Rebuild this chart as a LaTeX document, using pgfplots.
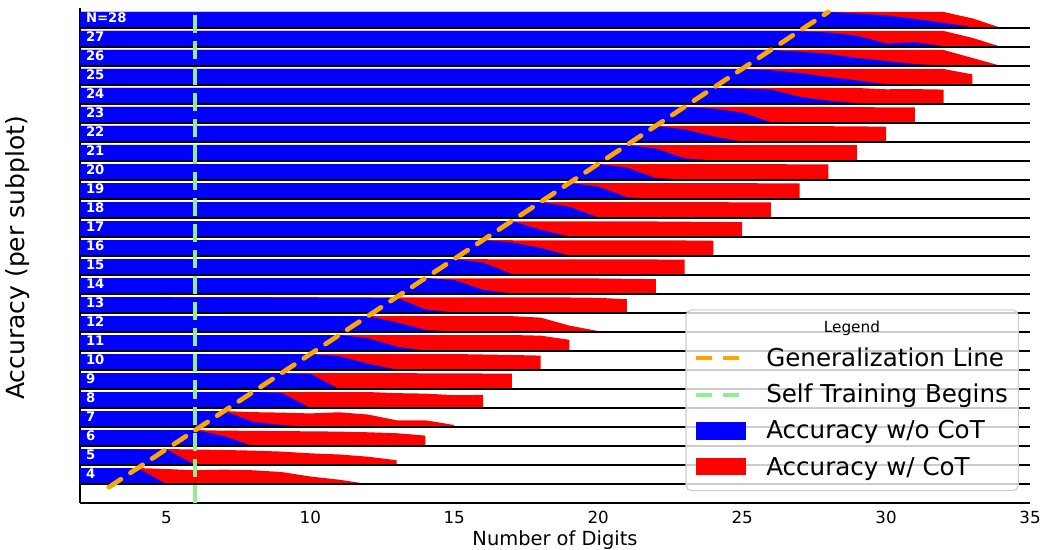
\documentclass[border=0pt]{standalone}
\usepackage{fontspec}
\setmainfont{DejaVu Sans}
\usepackage{pgfplots}
\pgfplotsset{compat=1.18}
\definecolor{lgreen}{RGB}{144,238,144}
\definecolor{orng}{RGB}{255,165,0}
\definecolor{pblue}{RGB}{0,0,255}
\definecolor{pred}{RGB}{255,0,0}
\pgfplotsset{
 sr/.style={fill=pred, draw=none, forget plot, y filter/.expression={#1+0.84*y}},
 sb/.style={fill=pblue, draw=none, forget plot, y filter/.expression={#1+0.84*y}},
}
\begin{document}
\begin{tikzpicture}
\path[use as bounding box] (-57.6pt,-33.84pt) rectangle (692.64pt,362.16pt);
\begin{axis}[at={(0,0)}, anchor=south west, scale only axis, width=684pt, height=356.4pt,
 xmin=2, xmax=35, ymin=-1, ymax=25.05, clip=false,
 axis x line*=bottom, axis y line*=left, axis line style={black, line width=0.9pt},
 ytick=\empty, xtick={5,10,15,20,25,30,35}, xticklabels={5,10,15,20,25,30,35},
 major tick length=0pt,
 xticklabel style={anchor=base, yshift=-14.6pt, font=\fontsize{12}{14}\selectfont},
 xlabel={Number of Digits},
 xlabel style={at={(axis description cs:0.5,0)}, anchor=base, yshift=-30.6pt, font=\fontsize{14}{17}\selectfont},
 ylabel={Accuracy (per subplot)},
 ylabel style={at={(axis description cs:-0.0579,0.495)}, anchor=base, font=\fontsize{18}{22}\selectfont},
]
% ---- red: accuracy with CoT
\addplot[sr=0] coordinates {(2,0)(2,1)(4,1)(5,0.94)(6,0.86)(7,0.9)(8,0.86)(9,0.75)(10,0.47)(11,0.27)(12,0)};
\addplot[sr=1] coordinates {(2,0)(2,1)(5,1)(6,0.97)(7,0.94)(8,0.9)(9,0.84)(10,0.73)(11,0.66)(12,0.52)(13,0.3)(13,0)};
\addplot[sr=2] coordinates {(2,0)(2,1)(6,1)(7,0.96)(8,0.95)(9,0.93)(10,0.92)(11,0.9)(12,0.86)(13,0.8)(14,0.65)(14,0)};
\addplot[sr=3] coordinates {(2,0)(2,1)(7,1)(8,0.93)(9,0.9)(10,0.85)(11,0.92)(12,0.78)(13,0.42)(14,0.42)(15,0.12)(15,0)};
\addplot[sr=4] coordinates {(2,0)(2,1)(12,1)(13,0.93)(14,0.9)(15,0.8)(16,0.82)(16,0)};
\addplot[sr=5] coordinates {(2,0)(2,1)(13,1)(14,0.98)(16,0.97)(17,0.96)(17,0)};
\addplot[sr=6] coordinates {(2,0)(2,1)(15,1)(16,0.97)(17,0.94)(18,0.9)(18,0)};
\addplot[sr=7] coordinates {(2,0)(2,1)(17,1)(18,0.96)(19,0.7)(19,0)};
\addplot[sr=8] coordinates {(2,0)(2,1)(17,0.99)(18,0.9)(19,0.4)(20,0.06)(20,0)};
\addplot[sr=9] coordinates {(2,0)(2,1)(19,0.97)(20,0.95)(21,0.86)(21,0)};
\addplot[sr=10] coordinates {(2,0)(2,1)(20,0.97)(22,0.93)(22,0)};
\addplot[sr=11] coordinates {(2,0)(2,1)(21,0.98)(23,0.96)(23,0)};
\addplot[sr=12] coordinates {(2,0)(2,1)(22,0.98)(24,0.96)(24,0)};
\addplot[sr=13] coordinates {(2,0)(2,1)(22,0.97)(25,0.93)(25,0)};
\addplot[sr=14] coordinates {(2,0)(2,1)(23,1)(26,0.97)(26,0)};
\addplot[sr=15] coordinates {(2,0)(2,1)(24,1)(27,0.97)(27,0)};
\addplot[sr=16] coordinates {(2,0)(2,1)(25,1)(28,0.97)(28,0)};
\addplot[sr=17] coordinates {(2,0)(2,1)(29,1)(29,0)};
\addplot[sr=18] coordinates {(2,0)(2,1)(27,1)(30,0.96)(30,0)};
\addplot[sr=19] coordinates {(2,0)(2,1)(28,1)(31,0.97)(31,0)};
\addplot[sr=20] coordinates {(2,0)(2,1)(29,1)(30,0.92)(31,0.93)(32,0.9)(32,0)};
\addplot[sr=21] coordinates {(2,0)(2,1)(32,1)(33,0.66)(33,0)};
\addplot[sr=22] coordinates {(2,0)(2,1)(32,1)(33,0.5)(34,0)};
\addplot[sr=23] coordinates {(2,0)(2,1)(32,1)(33,0.57)(34,0)};
\addplot[sr=24] coordinates {(2,0)(2,1)(32,1)(33,0.6)(34,0)};
% ---- blue: accuracy without CoT
\addplot[sb=0] coordinates {(2,0)(2,1)(4,1)(5,0)};
\addplot[sb=1] coordinates {(2,0)(2,1)(5,0.98)(6,0)};
\addplot[sb=2] coordinates {(2,0)(2,1)(6,1)(7,0.62)(8,0)};
\addplot[sb=3] coordinates {(2,0)(2,1)(7,1)(8,0.33)(9,0.12)(10,0)};
\addplot[sb=4] coordinates {(2,0)(2,1)(8,1)(9,0.95)(10,0)};
\addplot[sb=5] coordinates {(2,0)(2,1)(9,1)(10,0.94)(11,0)};
\addplot[sb=6] coordinates {(2,0)(2,1)(10,1)(11,0.87)(12,0.4)(13,0.02)(14,0)};
\addplot[sb=7] coordinates {(2,0)(2,1)(11,1)(12,0.8)(13,0.27)(14,0.02)(15,0)};
\addplot[sb=8] coordinates {(2,0)(2,1)(12,1)(13,0.6)(14,0.13)(15,0.02)(16,0)};
\addplot[sb=9] coordinates {(2,0)(2,1)(13,0.95)(14,0.22)(15,0.04)(16,0)};
\addplot[sb=10] coordinates {(2,0)(2,1)(14,1)(15,0.87)(16,0.26)(17,0.04)(18,0)};
\addplot[sb=11] coordinates {(2,0)(2,1)(15,1)(16,0.78)(17,0.06)(18,0)};
\addplot[sb=12] coordinates {(2,0)(2,1)(16,1)(17,0.85)(18,0.5)(19,0.03)(20,0)};
\addplot[sb=13] coordinates {(2,0)(2,1)(17,1)(18,0.45)(19,0.03)(20,0)};
\addplot[sb=14] coordinates {(2,0)(2,1)(18,1)(19,0.7)(20,0.04)(21,0)};
\addplot[sb=15] coordinates {(2,0)(2,1)(19,1)(20,0.77)(21,0.11)(22,0)};
\addplot[sb=16] coordinates {(2,0)(2,1)(20,1)(21,0.77)(22,0.12)(23,0.03)(24,0)};
\addplot[sb=17] coordinates {(2,0)(2,1)(21,1)(22,0.78)(23,0.16)(24,0.04)(25,0)};
\addplot[sb=18] coordinates {(2,0)(2,1)(22,1)(23,0.79)(24,0.35)(25,0.02)(26,0)};
\addplot[sb=19] coordinates {(2,0)(2,1)(23,1)(24,0.9)(25,0.65)(26,0.05)(27,0)};
\addplot[sb=20] coordinates {(2,0)(2,1)(24,1)(25,0.97)(26,0.9)(27,0.45)(28,0.2)(29,0.06)(30,0)};
\addplot[sb=21] coordinates {(2,0)(2,1)(25,1)(26,0.92)(27,0.75)(28,0.5)(29,0.28)(30,0.04)(31,0)};
\addplot[sb=22] coordinates {(2,0)(2,1)(26,1)(27,0.9)(28,0.75)(29,0.5)(30,0.32)(31,0.12)(32,0.03)(33,0)};
\addplot[sb=23] coordinates {(2,0)(2,1)(27,1)(28,0.9)(29,0.7)(30,0.22)(31,0.3)(32,0.05)(33,0)};
\addplot[sb=24] coordinates {(2,0)(2,1)(28,1)(29,0.9)(30,0.79)(31,0.57)(32,0.32)(33,0.05)(34,0)};
% ---- strip baselines
\pgfplotsinvokeforeach{0,...,24}{\addplot[black, line width=1pt, forget plot] coordinates {(2,#1) (35,#1)};}
% ---- strip labels
\pgfplotsinvokeforeach{0,...,23}{\node[anchor=base west, inner sep=0pt, text=white, font=\fontsize{9.5}{10}\selectfont\bfseries] at (axis cs:2.2,#1+0.3) {\the\numexpr#1+4\relax};}
\node[anchor=base west, inner sep=0pt, text=white, font=\fontsize{9.5}{10}\selectfont\bfseries] at (axis cs:2.2,24.3) {N=28};
% ---- self training line
\addplot[lgreen, line width=3.3pt, dash pattern=on 13pt off 5.8pt, forget plot] coordinates {(6,-1) (6,25.05)};
% ---- generalization line
\addplot[orng, line width=3.4pt, line cap=round, dash pattern=on 10.5pt off 8.2pt, forget plot] coordinates {(3,-0.17) (28,24.85)};
\end{axis}
% ---- legend
\draw[rounded corners=4pt, draw=black!20, line width=0.8pt, fill=white, fill opacity=0.8] (436.3pt,8.86pt) rectangle (675.6pt,139pt);
\node[anchor=base, inner sep=0pt, font=\fontsize{11}{13}\selectfont] at (555.8pt,122.9pt) {Legend};
\draw[orng, line width=2.9pt, dash pattern=on 11.5pt off 8pt] (443.5pt,104.2pt) -- (475.2pt,104.2pt);
\draw[lgreen, line width=2.9pt, dash pattern=on 11.5pt off 8pt] (443.5pt,77.8pt) -- (475.2pt,77.8pt);
\fill[pblue] (443.5pt,45.5pt) rectangle (479.5pt,58.2pt);
\fill[pred] (443.5pt,19.9pt) rectangle (479.5pt,32.6pt);
\node[anchor=base west, inner sep=0pt, font=\fontsize{17.7}{22}\selectfont] at (493.9pt,98.1pt) {Generalization Line};
\node[anchor=base west, inner sep=0pt, font=\fontsize{17.7}{22}\selectfont] at (493.9pt,72.1pt) {Self Training Begins};
\node[anchor=base west, inner sep=0pt, font=\fontsize{17.7}{22}\selectfont] at (493.9pt,46.1pt) {Accuracy w/o CoT};
\node[anchor=base west, inner sep=0pt, font=\fontsize{17.7}{22}\selectfont] at (493.9pt,20.0pt) {Accuracy w/ CoT};
\end{tikzpicture}
\end{document}
